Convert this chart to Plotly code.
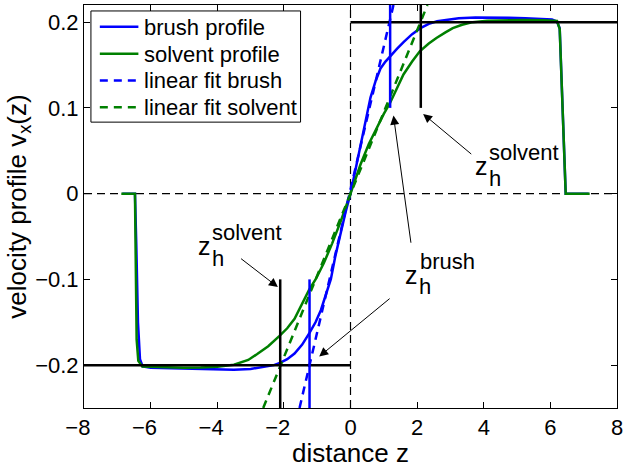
import plotly.graph_objects as go

# ---- measured velocity profiles ------------------------------------------
brush_z = [-6.85, -6.47, -6.43, -6.38, -6.32, -6.24, -6.0, -5.5, -5.0, -4.5, -4.0,
           -3.5, -3.0, -2.6, -2.3, -2.1, -1.9, -1.68, -1.45, -1.24, -1.05, -0.89,
           -0.74, -0.59, -0.45, -0.30, -0.15, 0.0, 0.15, 0.30, 0.45, 0.60, 0.75,
           0.90, 1.05, 1.20, 1.40, 1.60, 1.85, 2.10, 2.35, 2.60, 2.90, 3.25, 3.75,
           4.25, 4.75, 5.25, 5.75, 6.05, 6.20, 6.28, 6.46, 7.15]
brush_v = [0.0, 0.0, -0.06, -0.15, -0.193, -0.2015, -0.203, -0.2035, -0.204, -0.205,
           -0.2055, -0.2055, -0.2045, -0.202, -0.2, -0.197, -0.193, -0.1865, -0.176,
           -0.163, -0.150, -0.136, -0.119, -0.0998, -0.072, -0.045, -0.022, 0.0,
           0.029, 0.058, 0.085, 0.112, 0.131, 0.146, 0.154, 0.161, 0.169, 0.177,
           0.186, 0.193, 0.198, 0.201, 0.203, 0.2045, 0.2055, 0.2055, 0.205, 0.2045,
           0.204, 0.203, 0.2005, 0.193, 0.0, 0.0]

solvent_z = [-6.88, -6.47, -6.42, -6.37, -6.25, -5.5, -5.0, -4.5, -4.0, -3.5, -3.07,
             -2.8, -2.47, -2.13, -1.9, -1.68, -1.45, -1.24, -1.04, -0.8, -0.55, -0.3,
             0.0, 0.3, 0.55, 0.79, 1.0, 1.19, 1.4, 1.59, 1.85, 2.08, 2.35, 2.58, 2.85,
             3.07, 3.35, 3.67, 4.1, 4.6, 5.2, 5.8, 6.2, 6.28, 6.46, 7.18]
solvent_v = [0.0, 0.0, -0.17, -0.195, -0.2015, -0.2025, -0.203, -0.2028, -0.2018,
             -0.1995, -0.194, -0.187, -0.178, -0.166, -0.157, -0.146, -0.129, -0.112,
             -0.0995, -0.081, -0.058, -0.033, 0.0, 0.034, 0.058, 0.0775, 0.093, 0.106,
             0.123, 0.139, 0.154, 0.166, 0.175, 0.1815, 0.188, 0.193, 0.197, 0.2,
             0.2015, 0.2022, 0.2025, 0.2023, 0.2015, 0.192, 0.0, 0.0]

# ---- linear fits through the shear region (end points) -------------------
fit_brush_z = [-1.53, 1.29]
fit_brush_v = [-0.25, 0.22]
fit_solvent_z = [-2.62, 2.31]
fit_solvent_v = [-0.25, 0.22]

# ---- plateau velocity and brush heights ----------------------------------
plateau_v = 0.2
zh_brush = [-1.23, 1.19]
zh_solvent = [-2.11, 2.11]
marker_start = 0.1          # height-markers start at |v| = 0.1

x_range = [-8, 8]
y_range = [-0.25, 0.22]
x_ticks = [-8, -6, -4, -2, 0, 2, 4, 6, 8]
y_ticks = [-0.2, -0.1, 0, 0.1, 0.2]
# negative labels are centred on their digits, the minus sign hangs to the left
x_ticktext = [("\u2212%d\u00a0\u00a0" % -t) if t < 0 else str(t) for t in x_ticks]

legend_names = ["brush profile", "solvent profile", "linear fit brush", "linear fit solvent"]

BLUE = "#0000ff"
GREEN = "#008000"
BLACK = "#000000"
FONT = "Liberation Sans, Arial, Helvetica, sans-serif"

# plot-area geometry (pixels)
W, H = 627, 468
ML, MR, MT, MB = 84, 4, 4, 58
PW, PH = W - ML - MR, H - MT - MB


def px_to_paper(px, py):
    return (px - ML) / PW, (H - MB - py) / PH


fig = go.Figure()

# reference axes at z = 0 and v = 0
fig.add_trace(go.Scatter(x=x_range, y=[0, 0], mode="lines", showlegend=False,
                         line=dict(color=BLACK, width=1.2, dash="8px,5px"), hoverinfo="skip"))
fig.add_trace(go.Scatter(x=[0, 0], y=y_range, mode="lines", showlegend=False,
                         line=dict(color=BLACK, width=1.2, dash="8px,5px"), hoverinfo="skip"))

# profiles and fits
series_styles = [
    (brush_z, brush_v, BLUE, "solid"),
    (solvent_z, solvent_v, GREEN, "solid"),
    (fit_brush_z, fit_brush_v, BLUE, "8px,6px"),
    (fit_solvent_z, fit_solvent_v, GREEN, "8px,6px"),
]
for (xs, ys, col, dash), name in zip(series_styles, legend_names):
    fig.add_trace(go.Scatter(x=xs, y=ys, mode="lines", name=name, showlegend=False,
                             line=dict(color=col, width=2.5, dash=dash)))

# plateau levels
fig.add_trace(go.Scatter(x=[x_range[0], 0], y=[-plateau_v, -plateau_v], mode="lines",
                         showlegend=False, line=dict(color=BLACK, width=2.5)))
fig.add_trace(go.Scatter(x=[0, x_range[1]], y=[plateau_v, plateau_v], mode="lines",
                         showlegend=False, line=dict(color=BLACK, width=2.5)))

# solvent height markers
fig.add_trace(go.Scatter(x=[zh_solvent[0], zh_solvent[0]], y=[-marker_start, y_range[0]],
                         mode="lines", showlegend=False, line=dict(color=BLACK, width=2.5)))
fig.add_trace(go.Scatter(x=[zh_solvent[1], zh_solvent[1]], y=[marker_start, y_range[1]],
                         mode="lines", showlegend=False, line=dict(color=BLACK, width=2.5)))
# brush height markers
fig.add_trace(go.Scatter(x=[zh_brush[0], zh_brush[0]], y=[-marker_start, y_range[0]],
                         mode="lines", showlegend=False, line=dict(color=BLUE, width=2.5)))
fig.add_trace(go.Scatter(x=[zh_brush[1], zh_brush[1]], y=[marker_start, y_range[1]],
                         mode="lines", showlegend=False, line=dict(color=BLUE, width=2.5)))

# ---- legend box (drawn in paper coordinates) -----------------------------
shapes = []
x0, y0 = px_to_paper(91, 10)
x1, y1 = px_to_paper(303, 122)
shapes.append(dict(type="rect", xref="paper", yref="paper", x0=x0, y0=y1, x1=x1, y1=y0,
                   line=dict(color=BLACK, width=1), fillcolor="white", layer="above"))
annotations = []
for i, ((_, _, col, dash), name) in enumerate(zip(series_styles, legend_names)):
    row_y = 26 + 27 * i
    lx0, ly = px_to_paper(100, row_y)
    lx1, _ = px_to_paper(139, row_y)
    shapes.append(dict(type="line", xref="paper", yref="paper", x0=lx0, x1=lx1, y0=ly, y1=ly,
                       line=dict(color=col, width=2.5, dash=dash), layer="above"))
    tx, ty = px_to_paper(142.5, row_y + 0.5)
    annotations.append(dict(x=tx, y=ty, xref="paper", yref="paper", text=name,
                            showarrow=False, xanchor="left", yanchor="middle",
                            font=dict(family=FONT, size=22, color=BLACK)))

# ---- labels z_h^... ------------------------------------------------------
labels = [("solvent", -4.65, -0.0616), ("solvent", 3.67, 0.0319), ("brush", 1.59, -0.0943)]
for sup, lx, ly in labels:
    annotations.append(dict(x=lx, y=ly, xref="x", yref="y", text="z", showarrow=False,
                            xanchor="left", yanchor="middle",
                            font=dict(family=FONT, size=25, color=BLACK)))
    annotations.append(dict(x=lx, y=ly, xref="x", yref="y", text="h", showarrow=False,
                            xanchor="left", yanchor="middle", xshift=14, yshift=-12.3,
                            font=dict(family=FONT, size=22, color=BLACK)))
    annotations.append(dict(x=lx, y=ly, xref="x", yref="y", text=sup, showarrow=False,
                            xanchor="left", yanchor="middle", xshift=14.5, yshift=13.5,
                            font=dict(family=FONT, size=22, color=BLACK)))

# arrows: (tail z, tail v, head z, head v)
arrows = [(-3.33, -0.0745, -2.18, -0.109),
          (3.67, 0.0447, 2.18, 0.093),
          (1.22, -0.121, -0.94, -0.190),
          (1.82, -0.059, 1.29, 0.091)]
for tx, ty, hx, hy in arrows:
    annotations.append(dict(x=hx, y=hy, ax=tx, ay=ty, xref="x", yref="y",
                            axref="x", ayref="y", text="", showarrow=True,
                            arrowhead=2, arrowsize=1.8, arrowwidth=1, arrowcolor=BLACK,
                            standoff=0, startstandoff=0))

axis_common = dict(showline=True, linecolor=BLACK, linewidth=1, mirror="ticks",
                   ticks="inside", ticklen=6, tickwidth=1, tickcolor=BLACK,
                   showgrid=False, zeroline=False, ticklabeloverflow="allow",
                   tickfont=dict(family=FONT, size=22, color=BLACK))

fig.update_layout(
    width=W, height=H,
    margin=dict(l=ML, r=MR, t=MT, b=MB),
    paper_bgcolor="white", plot_bgcolor="white",
    font=dict(family=FONT, color=BLACK),
    xaxis=dict(range=x_range, tickvals=x_ticks, ticktext=x_ticktext, **axis_common,
               title=dict(text="distance z", font=dict(family=FONT, size=26, color=BLACK),
                          standoff=5)),
    yaxis=dict(range=y_range, tickvals=y_ticks, **axis_common,
               title=dict(text="velocity profile v<sub>x</sub>(z)",
                          font=dict(family=FONT, size=26, color=BLACK), standoff=0)),
    annotations=annotations,
    shapes=shapes,
    showlegend=False,
)

fig.write_html("out.html")
